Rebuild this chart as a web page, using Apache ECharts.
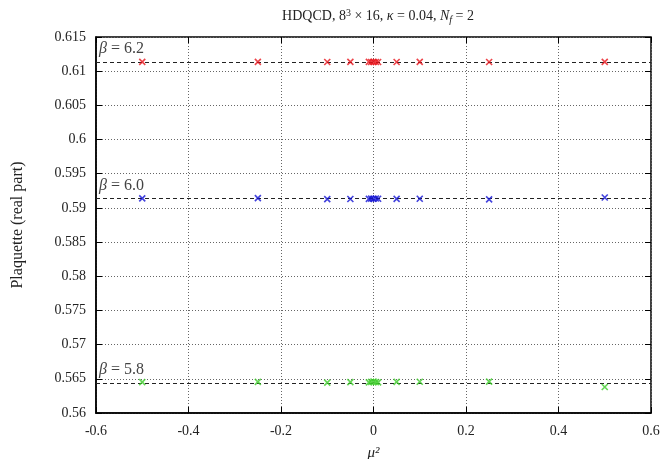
<!DOCTYPE html>
<html>
<head>
<meta charset="utf-8">
<script src="https://cdn.jsdelivr.net/npm/echarts@6/dist/echarts.min.js"></script>
<style>
  html, body { margin: 0; padding: 0; background: #fff; }
  #chart { width: 665px; height: 459px; }
</style>
</head>
<body>
<div id="chart"></div>
<script>
var muSq = [-0.5, -0.25, -0.1, -0.05, -0.01, -0.005, 0, 0.005, 0.01, 0.05, 0.1, 0.25, 0.5];
var plaq62 = [0.61136, 0.61136, 0.61135, 0.61136, 0.61136, 0.61135, 0.61136, 0.61135, 0.61134, 0.61135, 0.61136, 0.61135, 0.61136];
var plaq60 = [0.59140, 0.59143, 0.59128, 0.59130, 0.59133, 0.59136, 0.59134, 0.59138, 0.59134, 0.59132, 0.59134, 0.59125, 0.59152];
var plaq58 = [0.56452, 0.56455, 0.56444, 0.56452, 0.56448, 0.56456, 0.56460, 0.56452, 0.56448, 0.56455, 0.56457, 0.56458, 0.56380];
var betas = ['6.2', '6.0', '5.8'];
var betaMeans = [0.61134, 0.59134, 0.56440];
var colors = ['#e8141c', '#1414d4', '#3ccc28'];

var font = '"Liberation Serif", "DejaVu Serif", serif';
var cross = 'path://M0,0L10,10M10,0L0,10';

function pairs(ys) {
    return muSq.map(function (x, i) { return [x, ys[i]]; });
}

var allData = [plaq62, plaq60, plaq58];
var series = allData.map(function (ys, k) {
    return {
        type: 'scatter',
        data: pairs(ys),
        symbol: cross,
        symbolSize: 6,
        itemStyle: { color: 'transparent', borderColor: colors[k], borderWidth: 1.6 },
        z: 5,
        markLine: {
            silent: true,
            symbol: 'none',
            precision: 6,
            lineStyle: { type: [4, 3], color: '#222', width: 1 },
            label: {
                position: 'insideStartTop',
                distance: [3, 5],
                formatter: '{b|β} = ' + betas[k],
                fontFamily: font,
                fontSize: 16,
                color: '#444',
                rich: { b: { fontStyle: 'italic', fontFamily: font, fontSize: 16, color: '#444' } }
            },
            data: [{ yAxis: betaMeans[k] }],
            z: 3
        }
    };
});

var chart = echarts.init(document.getElementById('chart'));
chart.setOption({
    animation: false,
    title: {
        text: 'HDQCD, 8{sup|3} × 16, {i|κ} = 0.04, {i|N}{sub|f} = 2',
        left: 373,
        textAlign: 'center',
        top: 3,
        textStyle: {
            fontFamily: font, fontSize: 14, fontWeight: 'normal', color: '#222',
            rich: {
                sup: { fontFamily: font, fontSize: 10, verticalAlign: 'top', padding: [0, 0, 7, 0], color: '#222' },
                sub: { fontFamily: font, fontSize: 10, fontStyle: 'italic', padding: [7, 0, 0, 0], color: '#222' },
                i: { fontFamily: font, fontSize: 14, fontStyle: 'italic', color: '#222' }
            }
        }
    },
    grid: {
        left: 96, right: 14, top: 37, bottom: 46,
        containLabel: false, outerBoundsMode: 'none',
        show: true, borderColor: '#000', borderWidth: 1.5
    },
    xAxis: [{
        type: 'value', min: -0.6, max: 0.6, interval: 0.2,
        name: 'μ²', nameLocation: 'middle', nameGap: 33,
        nameTextStyle: { fontFamily: font, fontSize: 15, fontStyle: 'italic', color: '#222' },
        axisLine: { onZero: false, lineStyle: { color: '#000', width: 1.5 } },
        axisTick: { inside: true, length: 6, lineStyle: { color: '#000' } },
        axisLabel: { fontFamily: font, fontSize: 14, color: '#222', margin: 11,
            formatter: function (v) { return (Math.round(v * 10) / 10).toString(); } },
        splitLine: { show: true, lineStyle: { type: [1, 2], color: '#666' } }
    }, {
        type: 'value', min: -0.6, max: 0.6, interval: 0.2, position: 'top',
        axisLine: { show: false, onZero: false },
        axisTick: { inside: true, length: 6, lineStyle: { color: '#000' } },
        axisLabel: { show: false }, splitLine: { show: false }
    }],
    yAxis: [{
        type: 'value', min: 0.56, max: 0.615, interval: 0.005,
        name: 'Plaquette (real part)', nameLocation: 'middle', nameGap: 70,
        nameTextStyle: { fontFamily: font, fontSize: 16, color: '#222' },
        axisLine: { onZero: false, lineStyle: { color: '#000', width: 1.5 } },
        axisTick: { inside: true, length: 6, lineStyle: { color: '#000' } },
        axisLabel: { fontFamily: font, fontSize: 14, color: '#222', margin: 10,
            formatter: function (v) { return parseFloat(v.toFixed(3)).toString(); } },
        splitLine: { show: true, lineStyle: { type: [1, 2], color: '#666' } }
    }, {
        type: 'value', min: 0.56, max: 0.615, interval: 0.005, position: 'right',
        axisLine: { show: false, onZero: false },
        axisTick: { inside: true, length: 6, lineStyle: { color: '#000' } },
        axisLabel: { show: false }, splitLine: { show: false }
    }],
    series: series
});
</script>
</body>
</html>
